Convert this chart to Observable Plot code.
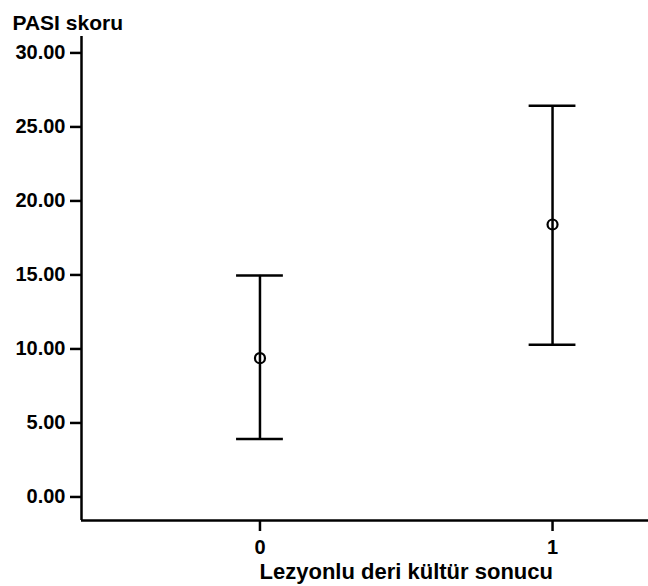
<!DOCTYPE html>
<html><head><meta charset="utf-8">
<script src="https://cdn.jsdelivr.net/npm/d3@7"></script>
<script src="https://cdn.jsdelivr.net/npm/@observablehq/plot@0.6"></script>
<style>body{margin:0;background:#fff}</style>
</head><body><div id="chart"></div>
<script>
const categories = [0, 1];
const means = [9.38, 18.41];
const lowers = [3.91, 10.28];
const uppers = [14.97, 26.43];
const yTicks = [0, 5, 10, 15, 20, 25, 30];
const yTitle = "PASI skoru";
const xTitle = "Lezyonlu deri kültür sonucu";

const data = categories.map((c, i) => ({cat: c, mean: means[i], lo: lowers[i], hi: uppers[i]}));
const xDomain = [-0.610, 1.328];
const yDomain = [-1.59, 31.11];
const capHalf = 0.080;

const chart = Plot.plot({
  width: 648, height: 586,
  marginTop: 36, marginBottom: 66, marginLeft: 81, marginRight: 0,
  style: {fontFamily: "'Liberation Sans', Arial, sans-serif", fontSize: "20px", fontWeight: "bold", color: "#000", background: "#fff"},
  x: {domain: xDomain},
  y: {domain: yDomain},
  marks: [
    Plot.ruleX([xDomain[0]], {stroke: "#000", strokeWidth: 2.5}),
    Plot.ruleY([yDomain[0]], {stroke: "#000", strokeWidth: 2.5}),
    Plot.axisY({ticks: yTicks, tickFormat: d3.format(".2f"), tickSize: 11, tickPadding: 5, strokeWidth: 2.5, label: null}),
    Plot.axisX({ticks: categories, tickFormat: d => String(d), tickSize: 11, tickPadding: 8, strokeWidth: 2.5, label: null}),
    Plot.ruleX(data, {x: "cat", y1: "lo", y2: "hi", stroke: "#000", strokeWidth: 2.5}),
    Plot.ruleY(data, {y: "hi", x1: d => d.cat - capHalf, x2: d => d.cat + capHalf, stroke: "#000", strokeWidth: 2.5}),
    Plot.ruleY(data, {y: "lo", x1: d => d.cat - capHalf, x2: d => d.cat + capHalf, stroke: "#000", strokeWidth: 2.5}),
    Plot.dot(data, {x: "cat", y: "mean", r: 5, stroke: "#000", strokeWidth: 2.2, fill: "none"}),
    Plot.text([yTitle], {frameAnchor: "top-left", dx: -69, dy: -21, textAnchor: "start", fill: "#000", fontSize: 21}),
    Plot.text([xTitle], {x: d3.mean(categories), frameAnchor: "bottom", dy: 58, fill: "#000", fontSize: 22})
  ]
});
document.getElementById("chart").appendChild(chart);
</script>
</body></html>
